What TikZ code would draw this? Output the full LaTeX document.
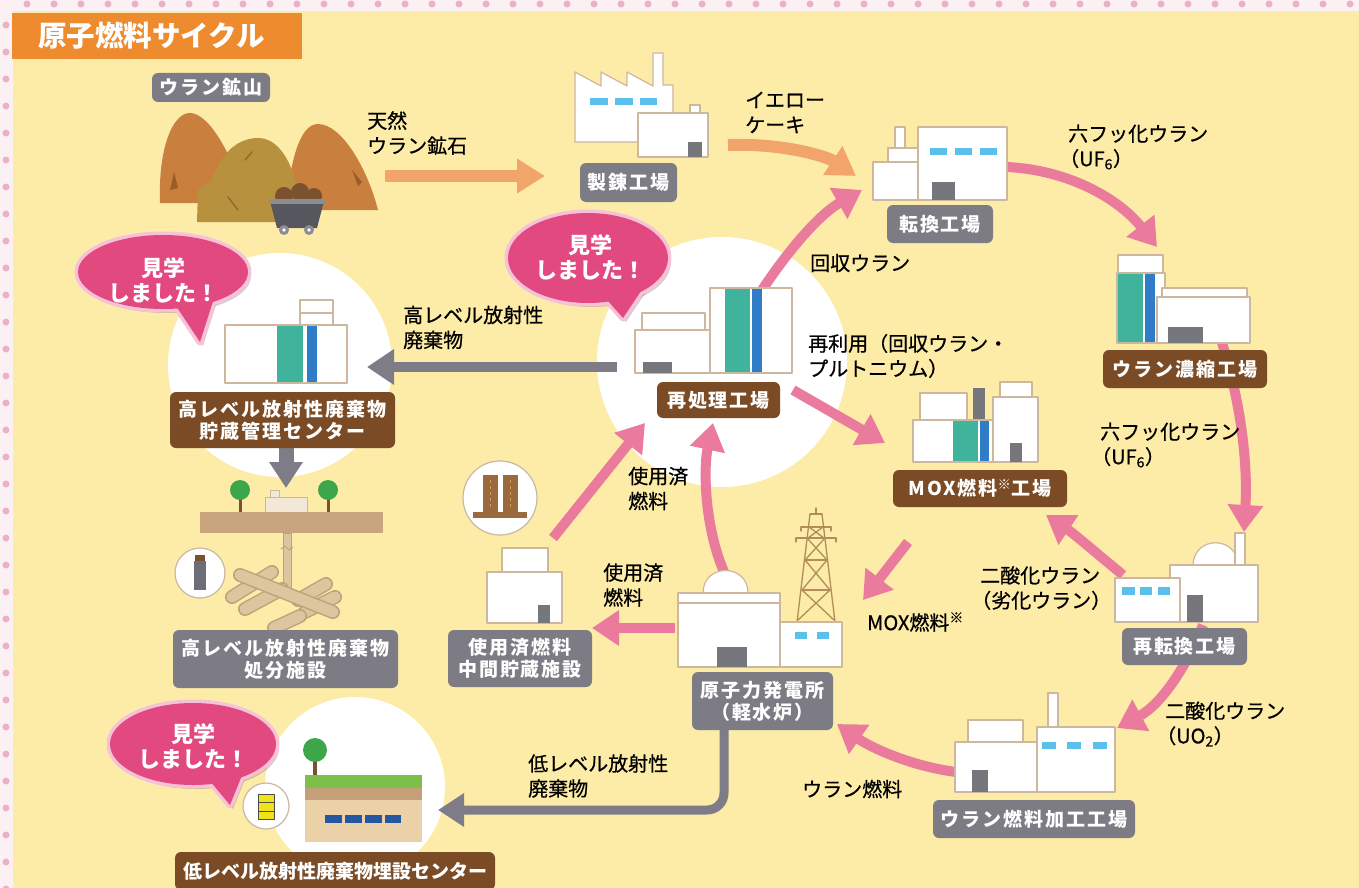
\documentclass[tikz,border=0pt]{standalone}
\usepackage{fontspec}
\setmainfont{Noto Sans CJK JP}
\newfontfamily\labfont{Noto Sans CJK JP}[LetterSpace=10]
\newfontfamily\txtfont{Noto Sans CJK JP}[FakeBold=0.6]
\usetikzlibrary{arrows.meta}

\definecolor{bg}{HTML}{FDEBA8}
\definecolor{strip}{HTML}{FBF0F2}
\definecolor{dotc}{HTML}{EBB0CC}
\definecolor{titlec}{HTML}{EE8B2F}
\definecolor{pinkA}{HTML}{EA7B9D}
\definecolor{orangeA}{HTML}{F1A56B}
\definecolor{grayA}{HTML}{7E7C86}
\definecolor{grayL}{HTML}{7D7C85}
\definecolor{brownL}{HTML}{7A4B25}
\definecolor{bub}{HTML}{E2497F}
\definecolor{bubedge}{HTML}{F6C2D8}
\definecolor{grn}{HTML}{3FB39B}
\definecolor{blu}{HTML}{2F7DC6}
\definecolor{winc}{HTML}{5BC0EA}
\definecolor{bline}{HTML}{CDB89F}
\definecolor{doorc}{HTML}{76767D}
\definecolor{iconline}{HTML}{C9B8A4}
\definecolor{mtn}{HTML}{C97F3E}
\definecolor{mtndark}{HTML}{9E5C28}
\definecolor{mound}{HTML}{B8913F}
\definecolor{mounddark}{HTML}{8E6C2A}
\definecolor{cartc}{HTML}{56565E}
\definecolor{cartrim}{HTML}{8C8C93}
\definecolor{rock}{HTML}{7A5230}
\definecolor{towerc}{HTML}{B08D5A}
\definecolor{groundc}{HTML}{C8A57D}
\definecolor{tunnelc}{HTML}{DCC6A0}
\definecolor{tunnelline}{HTML}{BFA27A}
\definecolor{treec}{HTML}{3EA64A}
\definecolor{trunkc}{HTML}{7A5230}
\definecolor{creamc}{HTML}{F3E8D8}
\definecolor{bottlec}{HTML}{6E6E76}
\definecolor{capc}{HTML}{7A5230}
\definecolor{caskc}{HTML}{9A6A3E}
\definecolor{caskline}{HTML}{D49A5A}
\definecolor{llgreen}{HTML}{7CC04A}
\definecolor{llbrown}{HTML}{C59F77}
\definecolor{llbody}{HTML}{EBD1A8}
\definecolor{llwin}{HTML}{2457A0}
\definecolor{barrelc}{HTML}{F2E21A}

% opening full-width parenthesis pulled to the line start
\newcommand\lpar{\kern-0.45em（}

% speech bubble: centre, x radius, y radius, tail base a, tail base b, tail tip
\newcommand\seebubble[6]{%
  \fill[black,opacity=.18] ([shift={(3,4)}]#1) ellipse [x radius=#2, y radius=#3];
  \fill[black,opacity=.18] ([shift={(3,4)}]#4) -- ([shift={(3,4)}]#6) -- ([shift={(3,4)}]#5) -- cycle;
  \draw[bubedge,line width=7pt] (#1) ellipse [x radius=#2, y radius=#3];
  \draw[bubedge,line width=7pt,line join=round] (#4) -- (#6) -- (#5);
  \fill[bub] (#1) ellipse [x radius=#2, y radius=#3];
  \fill[bub] (#4) -- (#6) -- (#5) -- cycle;
}

\begin{document}
\begin{tikzpicture}[x=1pt,y=-1pt,line join=round,
  bld/.style={fill=white,draw=bline,line width=1.2pt},
  pk/.style={draw=pinkA,line width=10pt,-{Triangle[width=34pt,length=27pt]}},
  og/.style={draw=orangeA,line width=12pt,-{Triangle[width=33pt,length=28pt]}},
  gy/.style={draw=grayA,line width=10pt,-{Triangle[width=34pt,length=27pt]}},
  tag/.style={rounded corners=6pt,text=white,inner sep=0pt,align=center,
    font=\labfont\bfseries\fontsize{19}{22}\selectfont},
  gtag/.style={tag,fill=grayL},
  btag/.style={tag,fill=brownL},
  txt/.style={anchor=west,align=left,inner sep=0pt,font=\txtfont\fontsize{20}{25}\selectfont},
  bubtxt/.style={text=white,align=center,inner sep=0pt,font=\bfseries\fontsize{22}{25}\selectfont},
  tun/.style={line width=14pt,draw=tunnelline,line cap=round},
  tunin/.style={line width=11pt,draw=tunnelc,line cap=round},
]
\useasboundingbox (0,0) rectangle (1359,888);

% ---------- page background and dotted border ----------
\fill[bg] (0,0) rectangle (1359,888);
\fill[strip] (0,0) rectangle (1359,11);
\fill[strip] (0,0) rectangle (13,888);
\foreach \i in {0,...,50} \fill[dotc] (27+27*\i,4) circle[radius=3.5];
\foreach \i in {0,...,32} \fill[dotc] (6,25+27*\i) circle[radius=3.5];

% ---------- title ----------
\fill[titlec] (12,13) rectangle (302,59);
\node[anchor=west,text=white,inner sep=0pt,font=\bfseries\fontsize{28.5}{30}\selectfont] (title) at (38,36) {原子燃料サイクル};

% ---------- white spotlight circles ----------
\fill[white] (280,365) circle[radius=112];
\fill[white] (722,362) circle[radius=125];
\fill[white] (355,787) circle[radius=90];

% ---------- uranium mine ----------
\fill[mtn] (160,203) .. controls (158,150) and (172,113) .. (190,113) .. controls (210,113) and (235,160) .. (246,203) -- cycle;
\fill[mtn] (286,210) .. controls (290,160) and (300,124) .. (318,124) .. controls (342,124) and (368,170) .. (378,210) -- cycle;
\fill[mtndark] (174,172) -- (170,190) -- (178,188) -- cycle;
\fill[mtndark] (352,170) -- (358,186) -- (362,182) -- cycle;
\fill[mound] (197,222) -- (198,190) -- (212,180) .. controls (222,150) and (240,138) .. (258,138) .. controls (282,138) and (298,170) .. (303,222) -- cycle;
\draw[mounddark,line width=1.5pt,line cap=round] (245,160) -- (252,152);
\draw[mounddark,line width=1.5pt,line cap=round] (228,197) -- (238,210);
\fill[rock] (284,196) circle[radius=9];
\fill[rock] (300,192) circle[radius=9];
\fill[rock] (314,196) circle[radius=8];
\fill[cartc] (270,201) -- (324,201) -- (317,228) -- (277,228) -- cycle;
\fill[cartrim] (269,199) rectangle (325,204);
\fill[cartrim] (284,230) circle[radius=5];
\fill[cartrim] (309,230) circle[radius=5];
\fill[white] (284,230) circle[radius=1.8];
\fill[white] (309,230) circle[radius=1.8];
\node[gtag,minimum width=118pt,minimum height=29pt] (mine) at (211,87.5) {ウラン鉱山};

% ---------- connector end points ----------
\coordinate (mineout) at (385,176);
\coordinate (smeltin) at (545,176);
\coordinate (smeltout) at (728,145);
\coordinate (convin) at (856,176);
\coordinate (convout) at (1007,167);
\coordinate (enrin) at (1157,247);
\coordinate (enrout) at (1222,343);
\coordinate (rcvin) at (1244,532);
\coordinate (rcvtomox) at (1123,575);
\coordinate (moxinr) at (1046,515);
\coordinate (rcvtofab) at (1203,625);
\coordinate (fabin) at (1117,728);
\coordinate (fabout) at (956,772);
\coordinate (nppin) at (837,724);
\coordinate (moxout) at (908,542);
\coordinate (moxfuel) at (863,600);
\coordinate (npptoint) at (675,628);
\coordinate (intin) at (592,628);
\coordinate (npptorep) at (725,574);
\coordinate (repinb) at (713,423);
\coordinate (intout) at (553,538);
\coordinate (repinl) at (645,423);
\coordinate (reptoconv) at (762,290);
\coordinate (convinb) at (862,190);
\coordinate (reptomox) at (793,390);
\coordinate (moxinl) at (885,443);
\coordinate (reptohlw) at (617,367);
\coordinate (hlwin) at (367,367);
\coordinate (hlwout) at (286,448);
\coordinate (dispin) at (286,488);
\coordinate (npptollw) at (724,728);
\coordinate (llwin) at (438,810);

% ---------- flow arrows ----------
\draw[og] (mineout) -- (smeltin);
\draw[og] (smeltout) .. controls (782,143) and (826,156) .. (convin);
\draw[pk] (convout) .. controls (1070,170) and (1120,200) .. (enrin);
\draw[pk] (enrout) .. controls (1240,400) and (1248,460) .. (rcvin);
\draw[pk] (rcvtomox) .. controls (1095,552) and (1073,533) .. (moxinr);
\draw[pk] (rcvtofab) .. controls (1185,670) and (1160,705) .. (fabin);
\draw[pk] (fabout) .. controls (910,766) and (870,747) .. (nppin);
\draw[pk] (moxout) -- (moxfuel);
\draw[pk] (npptoint) -- (intin);
\draw[pk] (npptorep) .. controls (705,530) and (703,470) .. (repinb);
\draw[pk] (intout) -- (repinl);
\draw[pk] (reptoconv) .. controls (790,248) and (820,214) .. (convinb);
\draw[pk] (reptomox) -- (moxinl);
\draw[gy] (reptohlw) -- (hlwin);
\draw[gy,line width=15pt,-{Triangle[width=32pt,length=26pt]}] (hlwout) -- (dispin);
\draw[gy,line width=9pt,rounded corners=17pt,-{Triangle[width=32pt,length=26pt]}] (npptollw) -- (724,810) -- (llwin);

% ---------- refining plant ----------
\draw[bld] (575,142) -- (575,72) -- (601,86) -- (601,72) -- (627,86) -- (627,72) -- (653,86) -- (653,53) -- (663,53) -- (663,85) -- (673,85) -- (673,142) -- cycle;
\fill[winc] (590,98) rectangle (608,105);
\fill[winc] (615,98) rectangle (633,105);
\fill[winc] (640,98) rectangle (657,105);
\draw[bld] (690,105) rectangle (700,113);
\draw[bld] (638,113) rectangle (708,157);
\fill[doorc] (688,142) rectangle (702,157);
\node[gtag,minimum width=97pt,minimum height=39pt] (smelt) at (628.5,182.5) {製錬工場};

% ---------- conversion plant ----------
\draw[bld] (895,127) rectangle (905,148);
\draw[bld] (888,148) rectangle (918,162);
\draw[bld] (873,162) rectangle (922,200);
\draw[bld] (918,127) rectangle (1007,200);
\fill[winc] (930,148) rectangle (947,155);
\fill[winc] (955,148) rectangle (972,155);
\fill[winc] (980,148) rectangle (997,155);
\fill[doorc] (932,182) rectangle (955,200);
\node[gtag,minimum width=106pt,minimum height=38pt] (conv) at (940,224) {転換工場};

% ---------- enrichment plant ----------
\draw[bld] (1118,255) rectangle (1163,273);
\draw[bld] (1117,273) rectangle (1165,343);
\fill[grn] (1118,274) rectangle (1143,342);
\fill[blu] (1145,274) rectangle (1155,342);
\draw[bld] (1162,288) rectangle (1247,297);
\draw[bld] (1157,297) rectangle (1250,343);
\fill[doorc] (1168,327) rectangle (1203,343);
\node[btag,minimum width=164pt,minimum height=38pt] (enrich) at (1185,369) {ウラン濃縮工場};

% ---------- reconversion plant ----------
\draw[bld] (1193,566) .. controls (1193,535) and (1238,535) .. (1238,566);
\draw[bld] (1235,533) rectangle (1245,566);
\draw[bld] (1170,565) rectangle (1258,622);
\fill[doorc] (1187,595) rectangle (1203,622);
\draw[bld] (1115,578) rectangle (1180,622);
\fill[winc] (1122,587) rectangle (1135,595);
\fill[winc] (1140,587) rectangle (1152,595);
\fill[winc] (1158,587) rectangle (1170,595);
\node[gtag,minimum width=125pt,minimum height=37pt] (reconv) at (1184.5,646.5) {再転換工場};

% ---------- fuel fabrication plant ----------
\draw[bld] (1048,693) rectangle (1058,727);
\draw[bld] (968,720) rectangle (1023,742);
\draw[bld] (955,742) rectangle (1037,792);
\draw[bld] (1037,727) rectangle (1115,792);
\fill[winc] (1042,742) rectangle (1056,749);
\fill[winc] (1067,742) rectangle (1081,749);
\fill[winc] (1093,742) rectangle (1107,749);
\fill[doorc] (972,770) rectangle (988,792);
\node[gtag,minimum width=202pt,minimum height=38pt] (fab) at (1034,819) {ウラン燃料加工工場};

% ---------- nuclear power plant ----------
\begin{scope}[draw=towerc,line width=1.3pt,line cap=round]
  \draw (816,508) -- (816,514);
  \draw (810,514) -- (822,514);
  \draw (810,514) -- (797,622);
  \draw (822,514) -- (835,622);
  \draw (801,527) -- (831,527);
  \draw (796,538) -- (836,538);
  \draw (801,527) -- (801,531);
  \draw (831,527) -- (831,531);
  \draw (796,538) -- (796,542);
  \draw (836,538) -- (836,542);
  \draw (809,527) -- (824,538) (823,527) -- (808,538);
  \draw (807,538) -- (827,560) (825,538) -- (805,560);
  \draw (805,560) -- (827,560);
  \draw (805,560) -- (830,590) (827,560) -- (802,590);
  \draw (802,590) -- (830,590);
  \draw (802,590) -- (834,620) (830,590) -- (798,620);
\end{scope}
\draw[bld] (703,593) .. controls (703,563) and (748,563) .. (748,593);
\draw[bld] (678,593) rectangle (780,667);
\draw[bline,line width=1.2pt] (678,603) -- (780,603);
\fill[doorc] (717,647) rectangle (747,667);
\draw[bld] (780,622) rectangle (842,667);
\fill[winc] (795,632) rectangle (807,639);
\fill[winc] (817,632) rectangle (829,639);
\node[gtag,minimum width=141pt,minimum height=58pt] (npp) at (762.5,701) {原子力発電所\\（軽水炉）};

% ---------- interim storage of spent fuel ----------
\draw[fill=white,draw=iconline,line width=1.2pt] (500,498) circle[radius=37];
\fill[caskc] (483,475) rectangle (498,513);
\fill[caskc] (503,475) rectangle (518,513);
\draw[caskline,line width=1pt,dash pattern=on 3pt off 3pt] (490.5,480) -- (490.5,508);
\draw[caskline,line width=1pt,dash pattern=on 3pt off 3pt] (510.5,480) -- (510.5,508);
\fill[caskc] (473,512) rectangle (527,518);
\draw[bld] (502,548) rectangle (548,572);
\draw[bld] (487,572) rectangle (562,623);
\fill[doorc] (538,605) rectangle (550,623);
\node[gtag,minimum width=144pt,minimum height=57pt] (interim) at (520,658.5) {使用済燃料\\中間貯蔵施設};

% ---------- reprocessing plant ----------
\draw[bld] (642,313) rectangle (705,330);
\draw[bld] (635,330) rectangle (712,373);
\fill[doorc] (643,362) rectangle (672,373);
\draw[bld] (710,288) rectangle (792,373);
\fill[grn] (725,289) rectangle (750,372);
\fill[blu] (752,289) rectangle (762,372);
\node[btag,minimum width=123pt,minimum height=36pt] (repro) at (718.5,400) {再処理工場};

% ---------- MOX fuel plant ----------
\draw[bld] (920,393) rectangle (967,420);
\fill[doorc] (973,388) rectangle (985,420);
\draw[bld] (913,420) rectangle (995,462);
\fill[grn] (953,421) rectangle (978,461);
\fill[blu] (980,421) rectangle (989,461);
\draw[bld] (1000,382) rectangle (1032,397);
\draw[bld] (993,397) rectangle (1038,462);
\fill[doorc] (1010,443) rectangle (1022,462);
\node[btag,minimum width=174pt,minimum height=37pt] (mox) at (980,488.5) {MOX燃料\textsuperscript{※}工場};

% ---------- high-level waste storage centre ----------
\draw[bld] (300,300) rectangle (333,313);
\draw[bld] (300,313) rectangle (333,325);
\draw[bld] (225,325) rectangle (347,383);
\fill[grn] (277,326) rectangle (303,382);
\fill[blu] (307,326) rectangle (317,382);
\node[btag,minimum width=225pt,minimum height=56pt] (hlwstore) at (282.5,420) {高レベル放射性廃棄物\\貯蔵管理センター};

% ---------- high-level waste disposal facility ----------
\fill[trunkc] (238.5,495) rectangle (241.5,512);
\fill[trunkc] (326.5,495) rectangle (329.5,512);
\fill[treec] (240,490) circle[radius=10];
\fill[treec] (328,490) circle[radius=10];
\draw[fill=creamc,draw=bline,line width=1pt] (270,490) rectangle (279,497);
\draw[fill=creamc,draw=bline,line width=1pt] (265,497) rectangle (307,512);
\fill[groundc] (200,512) rectangle (383,533);
\draw[fill=tunnelc,draw=tunnelline,line width=1pt] (283,533) rectangle (291,592);
\draw[tunnelline,line width=1pt] (281,549) -- (285,546) -- (289,550) -- (293,547);
\draw[tun] (232,597) -- (272,572);   \draw[tunin] (232,597) -- (272,572);
\draw[tun] (245,609) -- (282,589);   \draw[tunin] (245,609) -- (282,589);
\draw[tun] (298,600) -- (326,584);   \draw[tunin] (298,600) -- (326,584);
\draw[tun] (305,612) -- (335,597);   \draw[tunin] (305,612) -- (335,597);
\draw[tun] (240,575) -- (333,612);   \draw[tunin] (240,575) -- (333,612);
\draw[tun] (274,628) -- (300,616);   \draw[tunin] (274,628) -- (300,616);
\draw[fill=white,draw=iconline,line width=1.2pt] (200,573) circle[radius=25];
\fill[bottlec] (194,561) rectangle (206,590);
\fill[capc] (195,555) rectangle (205,561);
\node[gtag,minimum width=225pt,minimum height=58pt] (hlwdisp) at (285.5,659) {高レベル放射性廃棄物\\処分施設};

% ---------- low-level waste burial centre ----------
\fill[trunkc] (313,752) rectangle (317,775);
\fill[treec] (315,750) circle[radius=12];
\fill[llgreen] (305,775) rectangle (422,788);
\fill[llbrown] (305,788) rectangle (422,800);
\fill[llbody] (305,800) rectangle (422,842);
\fill[llwin] (325,815) rectangle (342,823);
\fill[llwin] (345,815) rectangle (362,823);
\fill[llwin] (365,815) rectangle (382,823);
\fill[llwin] (385,815) rectangle (401,823);
\draw[fill=white,draw=iconline,line width=1.2pt] (266,806) circle[radius=23];
\fill[barrelc] (258,794) rectangle (274,819);
\draw[black!70,line width=0.8pt] (258,794) rectangle (274,819);
\draw[black!70,line width=0.8pt] (258,802) -- (274,802) (258,811) -- (274,811);
\node[btag,minimum width=320pt,minimum height=38pt,font=\bfseries\fontsize{19}{22}\selectfont] (llw) at (335,871) {低レベル放射性廃棄物埋設センター};

% ---------- flow labels ----------
\node[txt] (t_ore) at (367,133) {天然\\ウラン鉱石};
\node[txt] (t_yc) at (745,112.5) {イエロー\\ケーキ};
\node[txt] (t_uf1) at (1068,147) {六フッ化ウラン\\\lpar UF\textsubscript{6}）};
\node[txt] (t_rec) at (810,263) {回収ウラン};
\node[txt] (t_reuse) at (808,356) {再利用（回収ウラン・\\プルトニウム）};
\node[txt] (t_uf2) at (1100,445) {六フッ化ウラン\\\lpar UF\textsubscript{6}）};
\node[txt] (t_du) at (980,588) {二酸化ウラン\\\lpar 劣化ウラン）};
\node[txt] (t_uo2) at (1165,724) {二酸化ウラン\\\lpar UO\textsubscript{2}）};
\node[txt] (t_ufuel) at (802,789) {ウラン燃料};
\node[txt] (t_mox) at (867,622) {MOX燃料\textsuperscript{※}};
\node[txt] (t_sp1) at (628,488.5) {使用済\\燃料};
\node[txt] (t_sp2) at (603,585) {使用済\\燃料};
\node[txt] (t_hlw) at (403,327.5) {高レベル放射性\\廃棄物};
\node[txt] (t_llw) at (528,776) {低レベル放射性\\廃棄物};

% ---------- "visited" speech bubbles ----------
\seebubble{163,272}{85}{37}{172,300}{215,295}{200,342}
\node[bubtxt] (b1) at (163,280) {見学\\しました！};
\seebubble{588,258}{80}{45}{600,292}{645,285}{623,318}
\node[bubtxt] (b2) at (590,257) {見学\\しました！};
\seebubble{193,744}{83}{41}{205,775}{245,768}{230,805}
\node[bubtxt] (b3) at (193,746) {見学\\しました！};

\end{tikzpicture}
\end{document}
